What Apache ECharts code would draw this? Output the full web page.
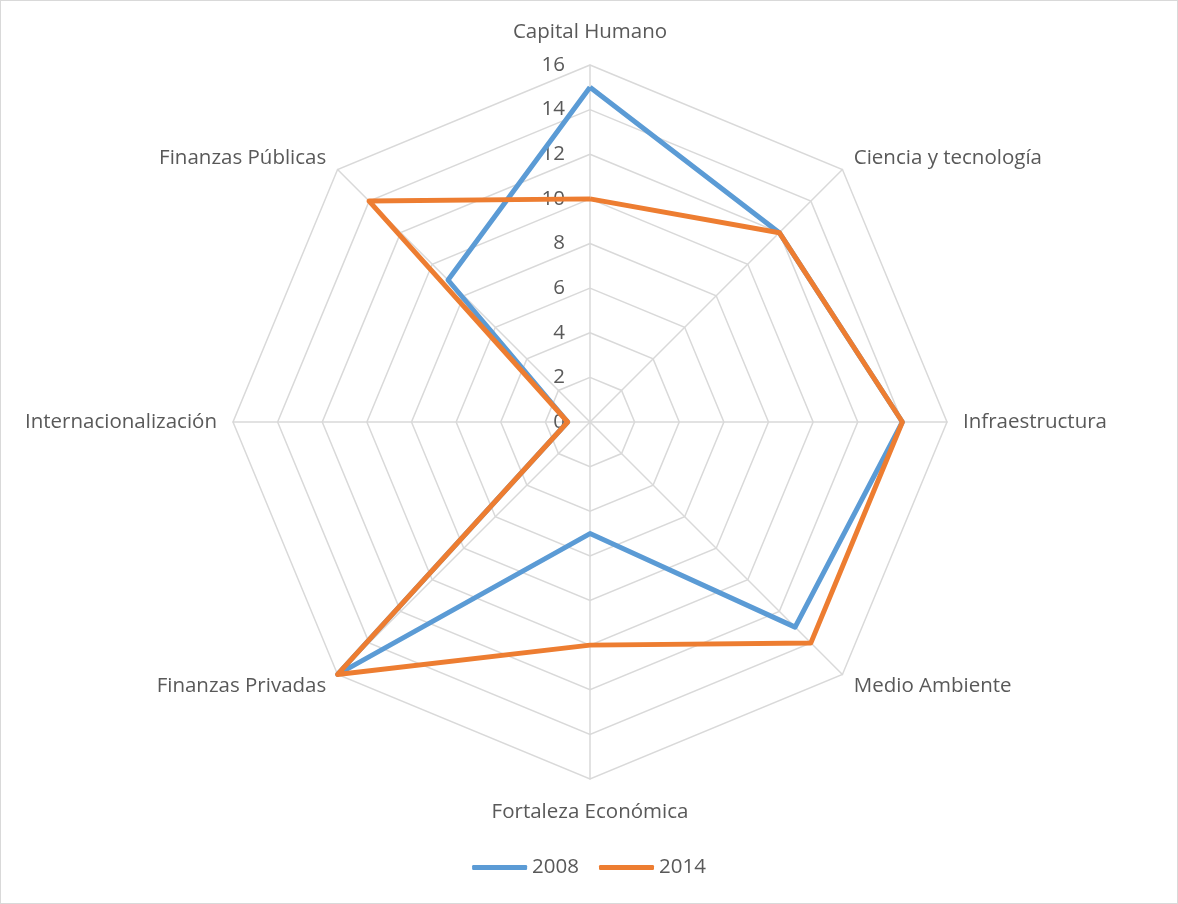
<!DOCTYPE html>
<html>
<head>
<meta charset="utf-8">
<script src="https://cdn.jsdelivr.net/npm/echarts@6/dist/echarts.min.js"></script>
<style>
  html, body { margin: 0; padding: 0; background: #fff; }
  #chart { width: 1176px; height: 902px; border: 1px solid #d9d9d9; }
</style>
</head>
<body>
<div id="chart"></div>
<script>
// clockwise order as in the picture, starting at the top
const indicators = ["Capital Humano", "Ciencia y tecnología", "Infraestructura", "Medio Ambiente",
  "Fortaleza Económica", "Finanzas Privadas", "Internacionalización", "Finanzas Públicas"];
const values2008 = [15, 12, 14, 13, 5, 16, 1, 9];
const values2014 = [10, 12, 14, 14, 10, 16, 1, 14];
const maxValue = 16;

// echarts walks the radar counter-clockwise, so flip the order after the first item
const ccw = arr => [arr[0]].concat(arr.slice(1).reverse());

const chart = echarts.init(document.getElementById("chart"), null, { renderer: "canvas" });
const font = "'Open Sans', 'Noto Sans', sans-serif";
const txt = "#595959";

chart.setOption({
  animation: false,
  color: ["#5b9bd5", "#ed7d31"],
  legend: {
    data: ["2008", "2014"],
    bottom: 20,
    left: "center",
    icon: "roundRect",
    itemWidth: 55,
    itemHeight: 5,
    itemGap: 20,
    textStyle: { fontFamily: font, fontSize: 20.5, color: txt }
  },
  radar: {
    center: [589, 421],
    radius: 357,
    startAngle: 90,
    splitNumber: 8,
    shape: "polygon",
    nameGap: 16,
    axisName: { fontFamily: font, fontSize: 20.5, color: txt, lineHeight: 34 },
    axisLine: { lineStyle: { color: "#d9d9d9", width: 1.5 } },
    splitLine: { lineStyle: { color: "#d9d9d9", width: 1.5 } },
    splitArea: { show: false },
    axisLabel: { show: false },
    indicator: ccw(indicators).map((name, i) => ({
      name, min: 0, max: maxValue,
      axisLabel: i === 0
        ? { show: true, fontFamily: font, fontSize: 20.5, color: txt, margin: 25 }
        : { show: false }
    }))
  },
  series: [{
    type: "radar",
    symbol: "none",
    lineStyle: { width: 5 },
    data: [
      { name: "2008", value: ccw(values2008), lineStyle: { color: "#5b9bd5", width: 5 } },
      { name: "2014", value: ccw(values2014), lineStyle: { color: "#ed7d31", width: 5 } }
    ]
  }]
});
</script>
</body>
</html>
